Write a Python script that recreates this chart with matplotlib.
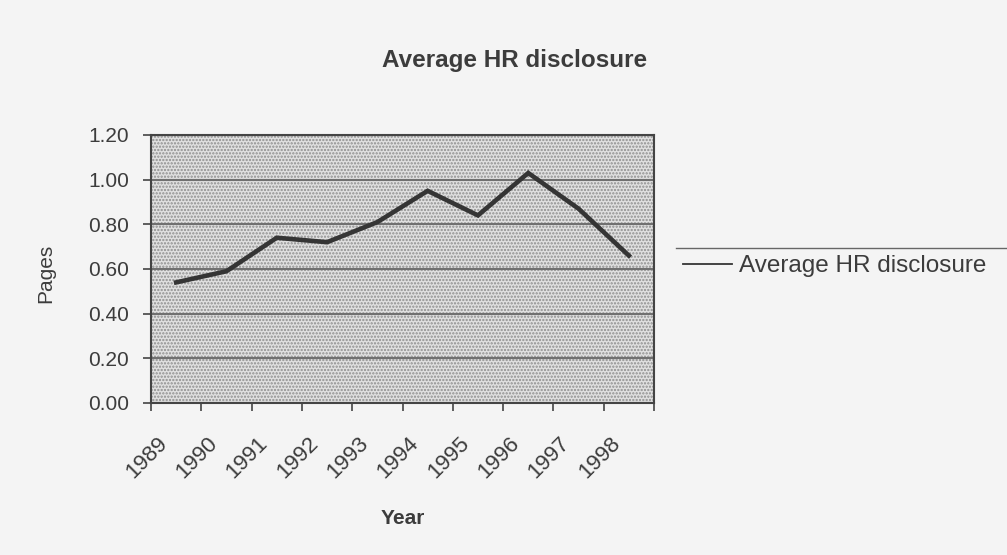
import matplotlib
matplotlib.use("Agg")
import matplotlib.pyplot as plt
import matplotlib.transforms as mtransforms
from matplotlib.lines import Line2D

plt.rcParams['font.family'] = ['Liberation Sans', 'DejaVu Sans']
plt.rcParams['hatch.linewidth'] = 1.1

years = ["1989", "1990", "1991", "1992", "1993", "1994", "1995", "1996", "1997", "1998"]
pages = [0.54, 0.59, 0.74, 0.72, 0.81, 0.95, 0.84, 1.03, 0.87, 0.66]
y_ticks = [0.00, 0.20, 0.40, 0.60, 0.80, 1.00, 1.20]
series_name = "Average HR disclosure"

page_bg = '#f4f4f4'
text_col = '#3c3c3c'

fig = plt.figure(figsize=(10.07, 5.55), dpi=100)
fig.patch.set_facecolor(page_bg)
ax = fig.add_axes([151 / 1007, 1 - 403 / 555, 503 / 1007, 268 / 555])

# stippled plot area
ax.patch.set_facecolor('#e0e0e0')
ax.patch.set_hatch('.....')
ax.patch.set_edgecolor('#8e8e8e')
ax.patch.set_linewidth(0)

xs = [i + 0.5 for i in range(len(years))]
ax.plot(xs, pages, color='#353535', lw=3.3, solid_joinstyle='miter', label=series_name, zorder=3)

ax.set_xlim(0, len(years))
ax.set_ylim(0, 1.2)
ax.set_yticks(y_ticks)
ax.set_yticklabels([f"{v:.2f}" for v in y_ticks], fontsize=15, color=text_col)
ax.yaxis.grid(True, color='#707070', lw=1.5)
ax.set_axisbelow(True)

# category boundaries as major ticks, year labels on minor ticks
ax.set_xticks(range(len(years) + 1))
ax.set_xticklabels([])
ax.set_xticks(xs, minor=True)
ax.set_xticklabels(years, minor=True, fontsize=16, color=text_col,
                   rotation=45, ha='right', va='center', rotation_mode='anchor')
ax.tick_params(axis='x', which='major', length=6, width=1.2, color='#444444')
ax.tick_params(axis='x', which='minor', length=0, pad=27)
ax.tick_params(axis='y', length=6, width=1.2, color='#444444', pad=10)
shift = mtransforms.ScaledTranslation(-12 / 100, 0, fig.dpi_scale_trans)
for lab in ax.get_xticklabels(minor=True):
    lab.set_transform(lab.get_transform() + shift)

for sp in ax.spines.values():
    sp.set_color('#444444')
    sp.set_linewidth(1.5)

ax.set_ylabel("Pages", fontsize=15, color=text_col)
ax.yaxis.set_label_coords(-0.191, 0.485)
fig.text(403 / 1007, 1 - 518 / 555, "Year", fontsize=15, fontweight='bold',
         color=text_col, ha='center', va='center')
fig.text(515 / 1007, 1 - 61 / 555, "Average HR disclosure", fontsize=17.5,
         fontweight='bold', color=text_col, ha='center', va='center')

leg = fig.legend(loc='center left', bbox_to_anchor=(683 / 1007, 1 - 266 / 555),
                 frameon=False, fontsize=17.5, handlelength=2.0, handletextpad=0.3,
                 borderpad=0, borderaxespad=0)
for t in leg.get_texts():
    t.set_color(text_col)
for ln in leg.get_lines():
    ln.set_linewidth(1.3)
fig.add_artist(Line2D([676 / 1007, 1.0], [1 - 248 / 555] * 2,
                      transform=fig.transFigure, color='#666666', lw=1))

fig.savefig("out.png", dpi=100, facecolor=fig.get_facecolor())
